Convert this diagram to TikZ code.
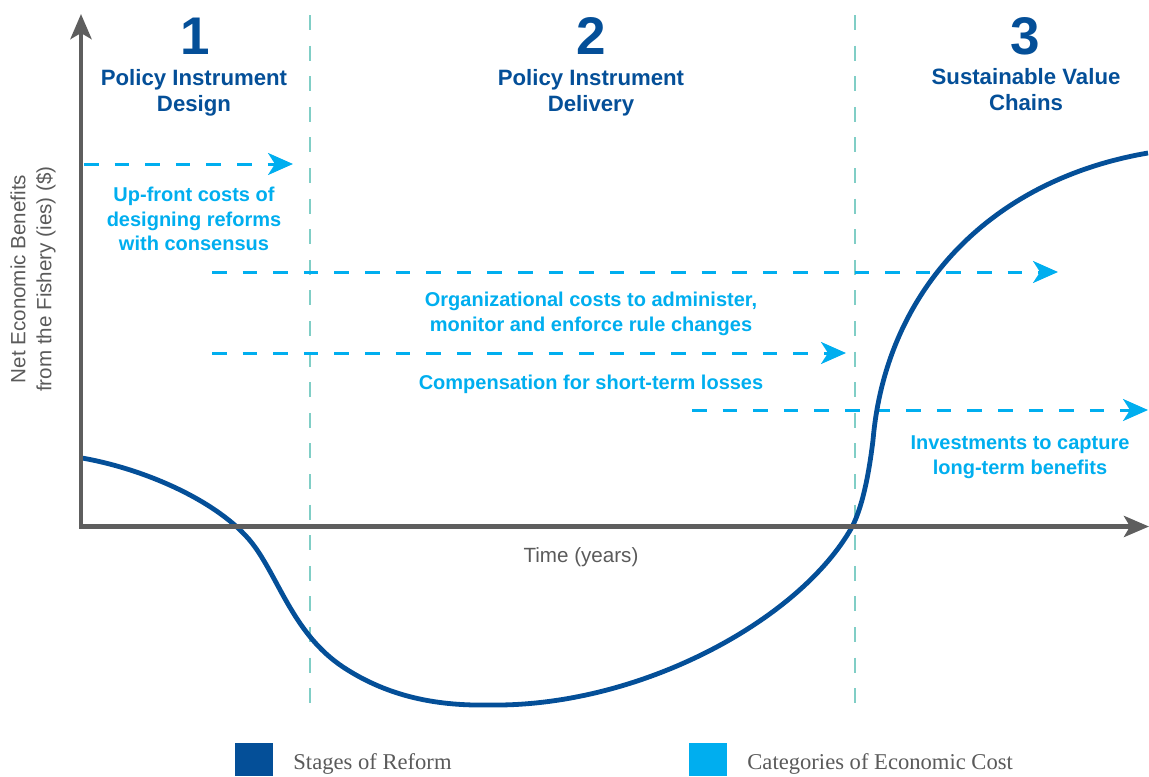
\documentclass[tikz,border=0pt]{standalone}
\usepackage{fontspec}
\setmainfont{Liberation Serif}
\newfontfamily\sansfont{Liberation Sans}
\usetikzlibrary{arrows.meta}
\definecolor{stageblue}{RGB}{4,79,152}
\definecolor{costcyan}{RGB}{0,174,239}
\definecolor{tealline}{RGB}{128,206,198}
\definecolor{axisgray}{RGB}{94,94,94}
\definecolor{labelgray}{RGB}{90,90,90}
\begin{document}
\begin{tikzpicture}[x=0.5pt,y=-0.5pt,
  axisline/.style={draw=axisgray,line width=2.3pt},
  divider/.style={draw=tealline,line width=1.25pt,dash pattern=on 7.5pt off 7.8pt},
  costarrow/.style={draw=costcyan,line width=1.5pt,dash pattern=on 7.3pt off 8pt,
    -{Stealth[length=12.5pt,width=11pt,inset=3.5pt]}},
  stagenum/.style={text=stageblue,font=\sansfont\bfseries\fontsize{26.5}{26.5}\selectfont},
  stagetitle/.style={text=stageblue,align=center,font=\sansfont\bfseries\fontsize{11.1}{13}\selectfont},
  costlabel/.style={text=costcyan,align=center,font=\sansfont\bfseries\fontsize{10}{12.4}\selectfont},
  axislabel/.style={text=labelgray,align=center,font=\sansfont\fontsize{10.3}{13}\selectfont},
  legendtext/.style={text=labelgray,anchor=base west,inner sep=0pt,font=\fontsize{11.3}{13}\selectfont},
  curve/.style={draw=stageblue,line width=2.4pt}
]
\useasboundingbox (0,0) rectangle (1149,776);

% dividers
\coordinate (d1top) at (310,15);
\coordinate (d1bot) at (310,718);
\coordinate (d2top) at (855,15);
\coordinate (d2bot) at (855,718);
\draw[divider] (d1top) -- (d1bot);
\draw[divider] (d2top) -- (d2bot);

% cost arrows
\coordinate (a1s) at (84,164);  \coordinate (a1e) at (293,164);
\coordinate (a2s) at (212,272); \coordinate (a2e) at (1058,272);
\coordinate (a3s) at (212,353); \coordinate (a3e) at (846,353);
\coordinate (a4s) at (692,410); \coordinate (a4e) at (1148,410);
\draw[costarrow] (a1s) -- (a1e);
\draw[costarrow] (a2s) -- (a2e);
\draw[costarrow] (a3s) -- (a3e);
\draw[costarrow] (a4s) -- (a4e);

% curve
\draw[curve] (82,458) .. controls (150,470) and (225,505) .. (255,547)
  .. controls (280,582) and (295,635) .. (343,667)
  .. controls (390,698) and (440,706) .. (490,705)
  .. controls (640,707) and (800,620) .. (852,527)
  .. controls (864,504) and (870,465) .. (873,440)
  .. controls (886,290) and (990,180) .. (1148,153);

% axes
\coordinate (ytip) at (81,14);
\coordinate (corner) at (81,526.5);
\coordinate (xtip) at (1149,526.5);
\draw[axisline,{Stealth[length=12.5pt,width=10.5pt,inset=3pt]}-{Stealth[length=12.5pt,width=10.5pt,inset=3pt]}] (ytip) -- (corner) -- (xtip);

% stage headings
\node[stagenum] (n1) at (195,36) {1};
\node[stagenum] (n2) at (591,36) {2};
\node[stagenum] (n3) at (1025,36) {3};
\node[stagetitle] (t1) at (194,93) {Policy Instrument\\Design};
\node[stagetitle] (t2) at (591,93) {Policy Instrument\\Delivery};
\node[stagetitle] (t3) at (1026,90) {Sustainable Value\\Chains};

% cost labels
\node[costlabel] (c1) at (194,219) {Up-front costs of\\designing reforms\\with consensus};
\node[costlabel] (c2) at (591,314) {Organizational costs to administer,\\monitor and enforce rule changes};
\node[costlabel] (c3) at (591,384) {Compensation for short-term losses};
\node[costlabel] (c4) at (1020,457) {Investments to capture\\long-term benefits};

% axis labels
\node[axislabel] (tl) at (581,557) {Time (years)};
\node[axislabel,rotate=90] (yl) at (33,279) {Net Economic Benefits\\from the Fishery (ies) (\$)};

% legend
\fill[stageblue] (235,743) rectangle (273,776);
\fill[costcyan] (689,743) rectangle (727,776);
\node[legendtext] (l1) at (293,769) {Stages of Reform};
\node[legendtext] (l2) at (747,769) {Categories of Economic Cost};
\end{tikzpicture}
\end{document}
